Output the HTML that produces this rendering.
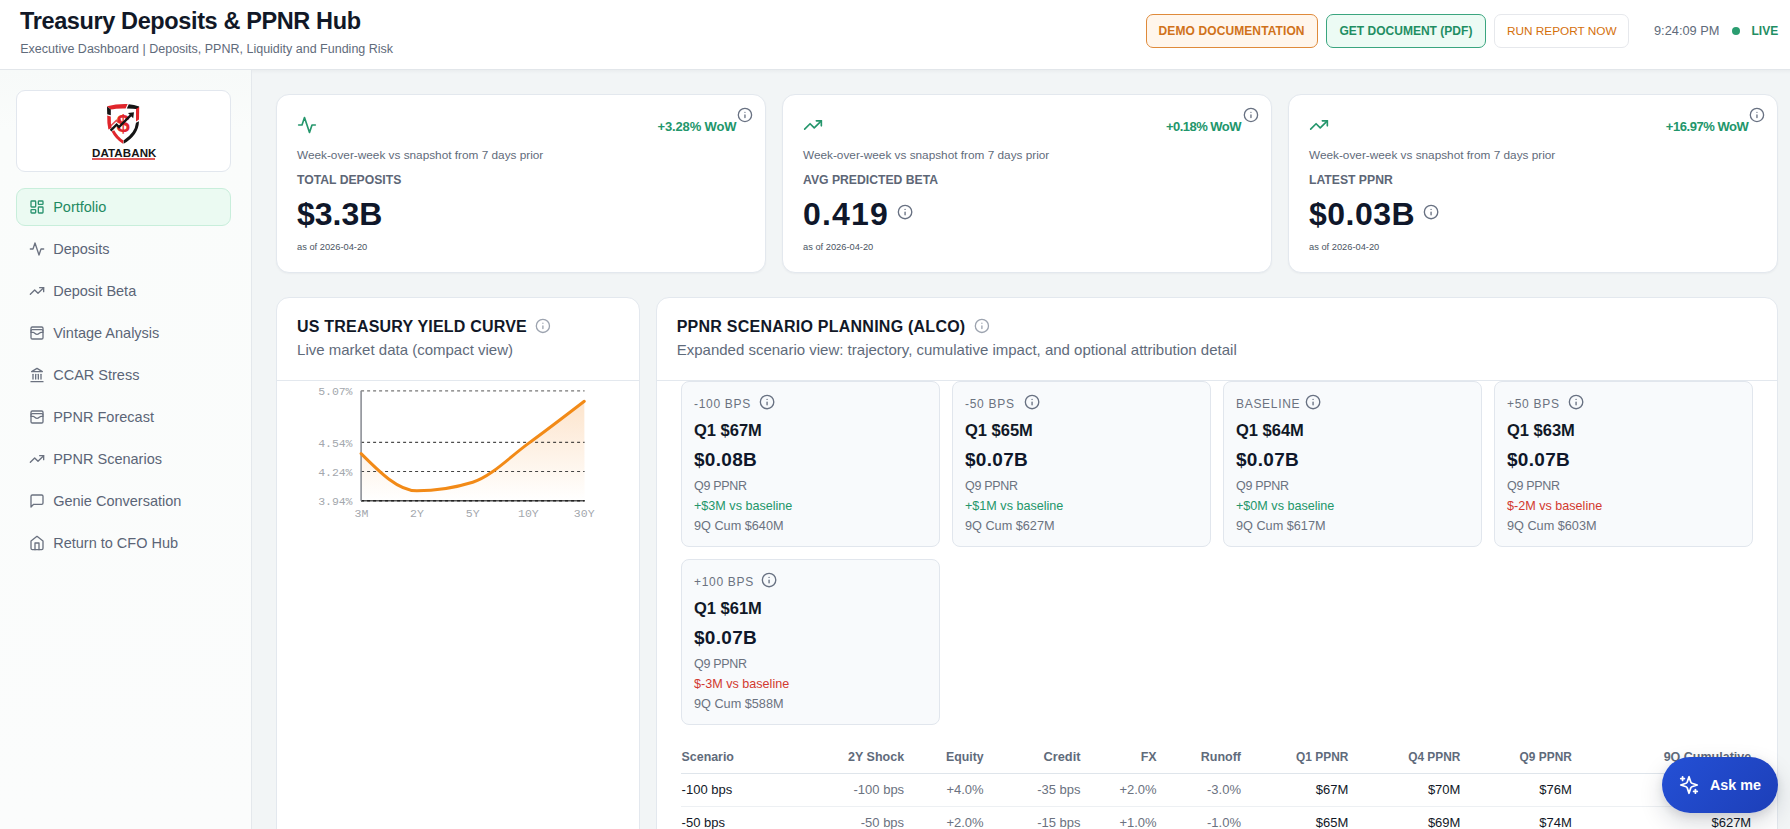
<!DOCTYPE html>
<html><head><meta charset="utf-8">
<style>
*{box-sizing:border-box;margin:0;padding:0}
html,body{width:1790px;height:829px;overflow:hidden;font-family:"Liberation Sans",sans-serif;background:#f2f5f6;position:relative}
.t{position:absolute;line-height:1;white-space:nowrap}
</style></head><body>
<div style="position:absolute;left:0px;top:0px;width:1790px;height:69px;background:#fff"></div>
<div style="position:absolute;left:0px;top:69px;width:1790px;height:1px;background:#e2e6ea"></div>
<div class="t" style="left:20.00px;top:10px;font-size:23.5px;color:#111827;font-weight:700;letter-spacing:-0.38px;">Treasury Deposits &amp; PPNR Hub</div>
<div class="t" style="left:20.20px;top:43px;font-size:12.5px;color:#5f6b7b;font-weight:400;letter-spacing:0px;">Executive Dashboard | Deposits, PPNR, Liquidity and Funding Risk</div>
<div style="position:absolute;left:1146px;top:14px;width:172px;height:34px;border:1px solid #df8a3a;background:#fff6ec;border-radius:7px"></div>
<div class="t" style="left:1158.60px;top:25px;font-size:12px;color:#d0721a;font-weight:700;letter-spacing:0.1px;">DEMO DOCUMENTATION</div>
<div style="position:absolute;left:1326px;top:14px;width:160px;height:34px;border:1px solid #3aa57f;background:#ecfbf4;border-radius:7px"></div>
<div class="t" style="left:1339.40px;top:25px;font-size:12px;color:#1f8e63;font-weight:700;letter-spacing:0.02px;">GET DOCUMENT (PDF)</div>
<div style="position:absolute;left:1494px;top:14px;width:135px;height:34px;border:1px solid #e6e8ec;background:#fff;border-radius:7px"></div>
<div class="t" style="left:1507.00px;top:26px;font-size:11.8px;color:#d4700c;font-weight:400;letter-spacing:0px;">RUN REPORT NOW</div>
<div class="t" style="left:1654.00px;top:25px;font-size:12.8px;color:#5f6b7b;font-weight:400;letter-spacing:0px;">9:24:09 PM</div>
<div style="position:absolute;left:1732px;top:27px;width:8px;height:8px;border-radius:50%;background:#2a9d70"></div>
<div class="t" style="left:1751.50px;top:25px;font-size:12px;color:#1f8e63;font-weight:700;letter-spacing:0px;">LIVE</div>
<div style="position:absolute;left:0px;top:70px;width:251px;height:759px;background:linear-gradient(180deg,#f7faf9 0px,#fafcfb 60px,#fbfcfc 100%)"></div>
<div style="position:absolute;left:251px;top:70px;width:1px;height:759px;background:#e4e8ec"></div>
<div style="position:absolute;left:252px;top:70px;width:1538px;height:4px;background:linear-gradient(rgba(15,23,42,.035),rgba(15,23,42,0))"></div>
<div style="position:absolute;left:16px;top:90px;width:215px;height:82px;background:#fff;border:1px solid #e2e7ee;border-radius:9px"></div>
<svg style="position:absolute;left:102px;top:100px" width="42" height="48" viewBox="0 0 42 48">
<path d="M5 6.2 Q15 3.6 25.6 4 L23.6 8.4 Q14 8.2 8.6 9.6 Z" fill="#e0262c"/>
<path d="M26.8 4.2 Q32 4.6 37.2 6.4 L36.6 9.2 Q31 8.4 24.8 8.4 Z" fill="#151515"/>
<path d="M5 6.6 L8.8 9.6 L8.8 15.2 L5.2 14.2 Z" fill="#151515"/>
<path d="M34 9 L37.2 7 L37 19.6 L34 21.4 Z" fill="#e0262c"/>
<path d="M5.2 15.4 L8.8 16.4 Q8.6 23 9.6 28 L6.4 29.6 Q5 23 5.2 15.4 Z" fill="#e0262c"/>
<path d="M9.6 31.4 L12.2 30.2 Q16 37 21.6 40.6 L21 43.8 Q13 38.6 9.6 31.4 Z" fill="#e0262c"/>
<path d="M37 21.2 Q36.6 35 21.6 43.8 L21.8 40.2 Q33 33 34 22.8 Z" fill="#151515"/>
<text x="21.2" y="31.6" text-anchor="middle" font-family="Liberation Sans" font-weight="700" font-size="24" fill="#e0262c">$</text>
<path d="M8.6 30.6 L14.6 24.6 L17 27 L29.4 14.6" stroke="#151515" stroke-width="2.4" fill="none"/>
<path d="M26 13 L32 12.2 L31.2 18.2 Z" fill="#151515"/>
<path d="M7.6 27 L14.4 20.4 L16.2 22.4 L19 19.6" stroke="#e0262c" stroke-width="1.6" fill="none" opacity="0.8"/>
</svg>
<div class="t" style="left:92.20px;top:149px;font-size:10.3px;color:#151515;font-weight:700;letter-spacing:0.1px;transform:scaleX(1.12);transform-origin:0 0">DATABANK</div>
<div style="position:absolute;left:92px;top:158px;width:63px;height:2px;background:#e05a5a"></div>
<div style="position:absolute;left:16px;top:188px;width:215px;height:38px;background:#ebfaf2;border:1px solid #c8eedb;border-radius:9px"></div>
<svg style="position:absolute;left:28.70px;top:199.20px" width="16" height="16" viewBox="0 0 24 24" fill="none" stroke="#2a9470" stroke-width="2" stroke-linecap="round" stroke-linejoin="round"><rect width="7" height="9" x="3" y="3" rx="1"/><rect width="7" height="5" x="14" y="3" rx="1"/><rect width="7" height="9" x="14" y="12" rx="1"/><rect width="7" height="5" x="3" y="16" rx="1"/></svg>
<div class="t" style="left:53.20px;top:200px;font-size:14.5px;color:#1f8a62;font-weight:400;letter-spacing:0px;">Portfolio</div>
<svg style="position:absolute;left:28.70px;top:241.20px" width="16" height="16" viewBox="0 0 24 24" fill="none" stroke="#6b7280" stroke-width="2" stroke-linecap="round" stroke-linejoin="round"><path d="M22 12h-4l-3 9L9 3l-3 9H2"/></svg>
<div class="t" style="left:53.20px;top:242px;font-size:14.5px;color:#5b6577;font-weight:400;letter-spacing:0px;">Deposits</div>
<svg style="position:absolute;left:28.70px;top:283.20px" width="16" height="16" viewBox="0 0 24 24" fill="none" stroke="#6b7280" stroke-width="2" stroke-linecap="round" stroke-linejoin="round"><polyline points="22 7 13.5 15.5 8.5 10.5 2 17"/><polyline points="16 7 22 7 22 13"/></svg>
<div class="t" style="left:53.20px;top:284px;font-size:14.5px;color:#5b6577;font-weight:400;letter-spacing:0px;">Deposit Beta</div>
<svg style="position:absolute;left:28.70px;top:325.20px" width="16" height="16" viewBox="0 0 24 24" fill="none" stroke="#6b7280" stroke-width="2" stroke-linecap="round" stroke-linejoin="round"><rect width="18" height="18" x="3" y="3" rx="2"/><path d="M3 9a2 2 0 0 1 2-2h14a2 2 0 0 1 2 2"/><path d="M3 11h3c.8 0 1.6.3 2.1.9l1.1.9c1.6 1.6 4.1 1.6 5.7 0l1.1-.9c.5-.5 1.3-.9 2.1-.9H21"/></svg>
<div class="t" style="left:53.20px;top:326px;font-size:14.5px;color:#5b6577;font-weight:400;letter-spacing:0px;">Vintage Analysis</div>
<svg style="position:absolute;left:28.70px;top:367.20px" width="16" height="16" viewBox="0 0 24 24" fill="none" stroke="#6b7280" stroke-width="2" stroke-linecap="round" stroke-linejoin="round"><line x1="3" x2="21" y1="22" y2="22"/><line x1="6" x2="6" y1="18" y2="11"/><line x1="10" x2="10" y1="18" y2="11"/><line x1="14" x2="14" y1="18" y2="11"/><line x1="18" x2="18" y1="18" y2="11"/><polygon points="12 2 20 7 4 7"/></svg>
<div class="t" style="left:53.20px;top:368px;font-size:14.5px;color:#5b6577;font-weight:400;letter-spacing:0px;">CCAR Stress</div>
<svg style="position:absolute;left:28.70px;top:409.20px" width="16" height="16" viewBox="0 0 24 24" fill="none" stroke="#6b7280" stroke-width="2" stroke-linecap="round" stroke-linejoin="round"><rect width="18" height="18" x="3" y="3" rx="2"/><path d="M3 9a2 2 0 0 1 2-2h14a2 2 0 0 1 2 2"/><path d="M3 11h3c.8 0 1.6.3 2.1.9l1.1.9c1.6 1.6 4.1 1.6 5.7 0l1.1-.9c.5-.5 1.3-.9 2.1-.9H21"/></svg>
<div class="t" style="left:53.20px;top:410px;font-size:14.5px;color:#5b6577;font-weight:400;letter-spacing:0px;">PPNR Forecast</div>
<svg style="position:absolute;left:28.70px;top:451.20px" width="16" height="16" viewBox="0 0 24 24" fill="none" stroke="#6b7280" stroke-width="2" stroke-linecap="round" stroke-linejoin="round"><polyline points="22 7 13.5 15.5 8.5 10.5 2 17"/><polyline points="16 7 22 7 22 13"/></svg>
<div class="t" style="left:53.20px;top:452px;font-size:14.5px;color:#5b6577;font-weight:400;letter-spacing:0px;">PPNR Scenarios</div>
<svg style="position:absolute;left:28.70px;top:493.20px" width="16" height="16" viewBox="0 0 24 24" fill="none" stroke="#6b7280" stroke-width="2" stroke-linecap="round" stroke-linejoin="round"><path d="M21 15a2 2 0 0 1-2 2H7l-4 4V5a2 2 0 0 1 2-2h14a2 2 0 0 1 2 2z"/></svg>
<div class="t" style="left:53.20px;top:494px;font-size:14.5px;color:#5b6577;font-weight:400;letter-spacing:0px;">Genie Conversation</div>
<svg style="position:absolute;left:28.70px;top:535.20px" width="16" height="16" viewBox="0 0 24 24" fill="none" stroke="#6b7280" stroke-width="2" stroke-linecap="round" stroke-linejoin="round"><path d="m3 9 9-7 9 7v11a2 2 0 0 1-2 2H5a2 2 0 0 1-2-2z"/><polyline points="9 22 9 12 15 12 15 22"/></svg>
<div class="t" style="left:53.20px;top:536px;font-size:14.5px;color:#5b6577;font-weight:400;letter-spacing:0px;">Return to CFO Hub</div>
<div style="position:absolute;left:276px;top:94px;width:490px;height:179px;background:#fff;border:1px solid #e3e8ee;border-radius:13px;box-shadow:0 1px 2px rgba(16,24,40,.04)"></div>
<svg style="position:absolute;left:297.00px;top:114.90px" width="20" height="20" viewBox="0 0 24 24" fill="none" stroke="#25966c" stroke-width="2" stroke-linecap="round" stroke-linejoin="round"><path d="M22 12h-4l-3 9L9 3l-3 9H2"/></svg>
<div class="t" style="right:1053.60px;top:120px;font-size:13px;color:#22966b;font-weight:700;letter-spacing:-0.14px;">+3.28% WoW</div>
<svg style="position:absolute;left:736.94px;top:106.94px" width="15.927272727272726" height="15.927272727272726" viewBox="0 0 24 24" fill="none" stroke="#687182" stroke-width="2" stroke-linecap="round" stroke-linejoin="round"><circle cx="12" cy="12" r="10"/><path d="M12 16v-4"/><path d="M12 8h.01"/></svg>
<div class="t" style="left:297.00px;top:150px;font-size:11.8px;color:#5f6b7b;font-weight:400;letter-spacing:0px;">Week-over-week vs snapshot from 7 days prior</div>
<div class="t" style="left:297.00px;top:174px;font-size:12.2px;color:#5d6676;font-weight:700;letter-spacing:0px;">TOTAL DEPOSITS</div>
<div class="t" style="left:297.00px;top:198px;font-size:32px;color:#0f172a;font-weight:700;letter-spacing:0px;">$3.3B</div>
<div class="t" style="left:297.00px;top:243px;font-size:9.3px;color:#4b5563;font-weight:400;letter-spacing:0px;">as of 2026-04-20</div>
<div style="position:absolute;left:782px;top:94px;width:490px;height:179px;background:#fff;border:1px solid #e3e8ee;border-radius:13px;box-shadow:0 1px 2px rgba(16,24,40,.04)"></div>
<svg style="position:absolute;left:803.00px;top:114.90px" width="20" height="20" viewBox="0 0 24 24" fill="none" stroke="#25966c" stroke-width="2" stroke-linecap="round" stroke-linejoin="round"><polyline points="22 7 13.5 15.5 8.5 10.5 2 17"/><polyline points="16 7 22 7 22 13"/></svg>
<div class="t" style="right:549.10px;top:120px;font-size:13px;color:#22966b;font-weight:700;letter-spacing:-0.53px;">+0.18% WoW</div>
<svg style="position:absolute;left:1242.94px;top:106.94px" width="15.927272727272726" height="15.927272727272726" viewBox="0 0 24 24" fill="none" stroke="#687182" stroke-width="2" stroke-linecap="round" stroke-linejoin="round"><circle cx="12" cy="12" r="10"/><path d="M12 16v-4"/><path d="M12 8h.01"/></svg>
<div class="t" style="left:803.00px;top:150px;font-size:11.8px;color:#5f6b7b;font-weight:400;letter-spacing:0px;">Week-over-week vs snapshot from 7 days prior</div>
<div class="t" style="left:803.00px;top:174px;font-size:12.2px;color:#5d6676;font-weight:700;letter-spacing:0px;">AVG PREDICTED BETA</div>
<div class="t" style="left:803.00px;top:198px;font-size:32px;color:#0f172a;font-weight:700;letter-spacing:1.2px;">0.419</div>
<svg style="position:absolute;left:896.93px;top:203.73px" width="16.145454545454548" height="16.145454545454548" viewBox="0 0 24 24" fill="none" stroke="#687182" stroke-width="2" stroke-linecap="round" stroke-linejoin="round"><circle cx="12" cy="12" r="10"/><path d="M12 16v-4"/><path d="M12 8h.01"/></svg>
<div class="t" style="left:803.00px;top:243px;font-size:9.3px;color:#4b5563;font-weight:400;letter-spacing:0px;">as of 2026-04-20</div>
<div style="position:absolute;left:1288px;top:94px;width:490px;height:179px;background:#fff;border:1px solid #e3e8ee;border-radius:13px;box-shadow:0 1px 2px rgba(16,24,40,.04)"></div>
<svg style="position:absolute;left:1309.00px;top:114.90px" width="20" height="20" viewBox="0 0 24 24" fill="none" stroke="#25966c" stroke-width="2" stroke-linecap="round" stroke-linejoin="round"><polyline points="22 7 13.5 15.5 8.5 10.5 2 17"/><polyline points="16 7 22 7 22 13"/></svg>
<div class="t" style="right:41.60px;top:120px;font-size:13px;color:#22966b;font-weight:700;letter-spacing:-0.45px;">+16.97% WoW</div>
<svg style="position:absolute;left:1748.94px;top:106.94px" width="15.927272727272726" height="15.927272727272726" viewBox="0 0 24 24" fill="none" stroke="#687182" stroke-width="2" stroke-linecap="round" stroke-linejoin="round"><circle cx="12" cy="12" r="10"/><path d="M12 16v-4"/><path d="M12 8h.01"/></svg>
<div class="t" style="left:1309.00px;top:150px;font-size:11.8px;color:#5f6b7b;font-weight:400;letter-spacing:0px;">Week-over-week vs snapshot from 7 days prior</div>
<div class="t" style="left:1309.00px;top:174px;font-size:12.2px;color:#5d6676;font-weight:700;letter-spacing:0px;">LATEST PPNR</div>
<div class="t" style="left:1309.00px;top:198px;font-size:32px;color:#0f172a;font-weight:700;letter-spacing:0.5px;">$0.03B</div>
<svg style="position:absolute;left:1422.93px;top:203.73px" width="16.145454545454548" height="16.145454545454548" viewBox="0 0 24 24" fill="none" stroke="#687182" stroke-width="2" stroke-linecap="round" stroke-linejoin="round"><circle cx="12" cy="12" r="10"/><path d="M12 16v-4"/><path d="M12 8h.01"/></svg>
<div class="t" style="left:1309.00px;top:243px;font-size:9.3px;color:#4b5563;font-weight:400;letter-spacing:0px;">as of 2026-04-20</div>
<div style="position:absolute;left:276px;top:297px;width:364px;height:560px;background:#fff;border:1px solid #e3e8ee;border-radius:13px"></div>
<div class="t" style="left:297.10px;top:319px;font-size:16px;color:#111827;font-weight:700;letter-spacing:0.2px;">US TREASURY YIELD CURVE</div>
<svg style="position:absolute;left:534.99px;top:318.29px" width="15.818181818181818" height="15.818181818181818" viewBox="0 0 24 24" fill="none" stroke="#9ca3af" stroke-width="2" stroke-linecap="round" stroke-linejoin="round"><circle cx="12" cy="12" r="10"/><path d="M12 16v-4"/><path d="M12 8h.01"/></svg>
<div class="t" style="left:297.10px;top:342px;font-size:15px;color:#5f6b7b;font-weight:400;letter-spacing:0px;">Live market data (compact view)</div>
<div style="position:absolute;left:277px;top:380px;width:362px;height:1px;background:#e3e8ee"></div>
<div style="position:absolute;left:656px;top:297px;width:1122px;height:560px;background:#fff;border:1px solid #e3e8ee;border-radius:13px"></div>
<div class="t" style="left:676.70px;top:319px;font-size:16px;color:#111827;font-weight:700;letter-spacing:0.24px;">PPNR SCENARIO PLANNING (ALCO)</div>
<svg style="position:absolute;left:973.89px;top:317.89px" width="15.818181818181818" height="15.818181818181818" viewBox="0 0 24 24" fill="none" stroke="#9ca3af" stroke-width="2" stroke-linecap="round" stroke-linejoin="round"><circle cx="12" cy="12" r="10"/><path d="M12 16v-4"/><path d="M12 8h.01"/></svg>
<div class="t" style="left:676.70px;top:342px;font-size:15px;color:#5f6b7b;font-weight:400;letter-spacing:0px;">Expanded scenario view: trajectory, cumulative impact, and optional attribution detail</div>
<div style="position:absolute;left:657px;top:380px;width:1120px;height:1px;background:#e3e8ee"></div>
<svg style="position:absolute;left:0;top:0" width="1790" height="829" viewBox="0 0 1790 829">
<defs><linearGradient id="gf" x1="0" y1="0" x2="0" y2="1"><stop offset="0" stop-color="#f7a04a" stop-opacity="0.28"/><stop offset="1" stop-color="#f7a04a" stop-opacity="0.0"/></linearGradient></defs>
<path d="M361.10,453.60 C379.70,472.20 398.30,490.80 416.90,490.80 C435.50,490.80 454.10,487.93 472.70,482.20 C491.30,476.47 509.90,456.88 528.50,443.40 C547.10,429.92 565.70,415.61 584.30,401.30 L584.6,500.7 L361.1,500.7 Z" fill="url(#gf)"/>
<line x1="361.1" y1="390.8" x2="584.6" y2="390.8" stroke="#777" stroke-width="1.3" stroke-dasharray="3 3"/>
<line x1="361.1" y1="442.3" x2="584.6" y2="442.3" stroke="#222" stroke-width="1" stroke-dasharray="3 3"/>
<line x1="361.1" y1="471.5" x2="584.6" y2="471.5" stroke="#444" stroke-width="1" stroke-dasharray="3 3"/>
<line x1="361.1" y1="500.7" x2="584.6" y2="500.7" stroke="#555" stroke-width="1.6"/>
<line x1="361.1" y1="500.7" x2="584.6" y2="500.7" stroke="#222" stroke-width="1.6" stroke-dasharray="3 3"/>
<line x1="361.1" y1="390.8" x2="361.1" y2="500.7" stroke="#85888f" stroke-width="1.5"/>
<path d="M361.10,453.60 C379.70,472.20 398.30,490.80 416.90,490.80 C435.50,490.80 454.10,487.93 472.70,482.20 C491.30,476.47 509.90,456.88 528.50,443.40 C547.10,429.92 565.70,415.61 584.30,401.30" fill="none" stroke="#f28a17" stroke-width="3" stroke-linecap="round" stroke-linejoin="round"/>
</svg>
<div class="t" style="right:1437.70px;top:386px;font-size:11.5px;color:#a3a7ad;font-weight:400;letter-spacing:-0.1px;font-family:'Liberation Mono',monospace;">5.07%</div>
<div class="t" style="right:1437.70px;top:438px;font-size:11.5px;color:#a3a7ad;font-weight:400;letter-spacing:-0.1px;font-family:'Liberation Mono',monospace;">4.54%</div>
<div class="t" style="right:1437.70px;top:467px;font-size:11.5px;color:#a3a7ad;font-weight:400;letter-spacing:-0.1px;font-family:'Liberation Mono',monospace;">4.24%</div>
<div class="t" style="right:1437.70px;top:496px;font-size:11.5px;color:#a3a7ad;font-weight:400;letter-spacing:-0.1px;font-family:'Liberation Mono',monospace;">3.94%</div>
<div class="t" style="left:354.50px;top:508px;font-size:11.5px;color:#a3a7ad;font-weight:400;letter-spacing:0px;font-family:'Liberation Mono',monospace;">3M</div>
<div class="t" style="left:410.00px;top:508px;font-size:11.5px;color:#a3a7ad;font-weight:400;letter-spacing:0px;font-family:'Liberation Mono',monospace;">2Y</div>
<div class="t" style="left:465.80px;top:508px;font-size:11.5px;color:#a3a7ad;font-weight:400;letter-spacing:0px;font-family:'Liberation Mono',monospace;">5Y</div>
<div class="t" style="left:518.05px;top:508px;font-size:11.5px;color:#a3a7ad;font-weight:400;letter-spacing:0px;font-family:'Liberation Mono',monospace;">10Y</div>
<div class="t" style="left:573.85px;top:508px;font-size:11.5px;color:#a3a7ad;font-weight:400;letter-spacing:0px;font-family:'Liberation Mono',monospace;">30Y</div>
<div style="position:absolute;left:681px;top:381px;width:259px;height:166px;background:#f8fafc;border:1px solid #e1e6ed;border-radius:8px"></div>
<div class="t" style="left:694.00px;top:398px;font-size:12px;color:#6b7280;font-weight:400;letter-spacing:0.7px;">-100 BPS</div>
<div class="t" style="left:694.00px;top:422px;font-size:16.5px;color:#111827;font-weight:700;letter-spacing:0px;">Q1 $67M</div>
<div class="t" style="left:694.00px;top:450px;font-size:19px;color:#0f172a;font-weight:700;letter-spacing:0.3px;">$0.08B</div>
<div class="t" style="left:694.00px;top:480px;font-size:12.5px;color:#6b7280;font-weight:400;letter-spacing:-0.3px;">Q9 PPNR</div>
<div class="t" style="left:694.00px;top:500px;font-size:12.6px;color:#23966a;font-weight:400;letter-spacing:0px;">+$3M vs baseline</div>
<div class="t" style="left:694.00px;top:520px;font-size:12.7px;color:#6b7280;font-weight:400;letter-spacing:0px;">9Q Cum $640M</div>
<svg style="position:absolute;left:758.83px;top:394.43px" width="16.145454545454548" height="16.145454545454548" viewBox="0 0 24 24" fill="none" stroke="#687182" stroke-width="2" stroke-linecap="round" stroke-linejoin="round"><circle cx="12" cy="12" r="10"/><path d="M12 16v-4"/><path d="M12 8h.01"/></svg>
<div style="position:absolute;left:952px;top:381px;width:259px;height:166px;background:#f8fafc;border:1px solid #e1e6ed;border-radius:8px"></div>
<div class="t" style="left:965.00px;top:398px;font-size:12px;color:#6b7280;font-weight:400;letter-spacing:0.7px;">-50 BPS</div>
<div class="t" style="left:965.00px;top:422px;font-size:16.5px;color:#111827;font-weight:700;letter-spacing:0px;">Q1 $65M</div>
<div class="t" style="left:965.00px;top:450px;font-size:19px;color:#0f172a;font-weight:700;letter-spacing:0.3px;">$0.07B</div>
<div class="t" style="left:965.00px;top:480px;font-size:12.5px;color:#6b7280;font-weight:400;letter-spacing:-0.3px;">Q9 PPNR</div>
<div class="t" style="left:965.00px;top:500px;font-size:12.6px;color:#23966a;font-weight:400;letter-spacing:0px;">+$1M vs baseline</div>
<div class="t" style="left:965.00px;top:520px;font-size:12.7px;color:#6b7280;font-weight:400;letter-spacing:0px;">9Q Cum $627M</div>
<svg style="position:absolute;left:1023.53px;top:394.43px" width="16.145454545454548" height="16.145454545454548" viewBox="0 0 24 24" fill="none" stroke="#687182" stroke-width="2" stroke-linecap="round" stroke-linejoin="round"><circle cx="12" cy="12" r="10"/><path d="M12 16v-4"/><path d="M12 8h.01"/></svg>
<div style="position:absolute;left:1223px;top:381px;width:259px;height:166px;background:#f8fafc;border:1px solid #e1e6ed;border-radius:8px"></div>
<div class="t" style="left:1236.00px;top:398px;font-size:12px;color:#6b7280;font-weight:400;letter-spacing:0.7px;">BASELINE</div>
<div class="t" style="left:1236.00px;top:422px;font-size:16.5px;color:#111827;font-weight:700;letter-spacing:0px;">Q1 $64M</div>
<div class="t" style="left:1236.00px;top:450px;font-size:19px;color:#0f172a;font-weight:700;letter-spacing:0.3px;">$0.07B</div>
<div class="t" style="left:1236.00px;top:480px;font-size:12.5px;color:#6b7280;font-weight:400;letter-spacing:-0.3px;">Q9 PPNR</div>
<div class="t" style="left:1236.00px;top:500px;font-size:12.6px;color:#23966a;font-weight:400;letter-spacing:0px;">+$0M vs baseline</div>
<div class="t" style="left:1236.00px;top:520px;font-size:12.7px;color:#6b7280;font-weight:400;letter-spacing:0px;">9Q Cum $617M</div>
<svg style="position:absolute;left:1304.83px;top:394.43px" width="16.145454545454548" height="16.145454545454548" viewBox="0 0 24 24" fill="none" stroke="#687182" stroke-width="2" stroke-linecap="round" stroke-linejoin="round"><circle cx="12" cy="12" r="10"/><path d="M12 16v-4"/><path d="M12 8h.01"/></svg>
<div style="position:absolute;left:1494px;top:381px;width:259px;height:166px;background:#f8fafc;border:1px solid #e1e6ed;border-radius:8px"></div>
<div class="t" style="left:1507.00px;top:398px;font-size:12px;color:#6b7280;font-weight:400;letter-spacing:0.7px;">+50 BPS</div>
<div class="t" style="left:1507.00px;top:422px;font-size:16.5px;color:#111827;font-weight:700;letter-spacing:0px;">Q1 $63M</div>
<div class="t" style="left:1507.00px;top:450px;font-size:19px;color:#0f172a;font-weight:700;letter-spacing:0.3px;">$0.07B</div>
<div class="t" style="left:1507.00px;top:480px;font-size:12.5px;color:#6b7280;font-weight:400;letter-spacing:-0.3px;">Q9 PPNR</div>
<div class="t" style="left:1507.00px;top:500px;font-size:12.6px;color:#d2392f;font-weight:400;letter-spacing:0px;">$-2M vs baseline</div>
<div class="t" style="left:1507.00px;top:520px;font-size:12.7px;color:#6b7280;font-weight:400;letter-spacing:0px;">9Q Cum $603M</div>
<svg style="position:absolute;left:1567.93px;top:394.43px" width="16.145454545454548" height="16.145454545454548" viewBox="0 0 24 24" fill="none" stroke="#687182" stroke-width="2" stroke-linecap="round" stroke-linejoin="round"><circle cx="12" cy="12" r="10"/><path d="M12 16v-4"/><path d="M12 8h.01"/></svg>
<div style="position:absolute;left:681px;top:559px;width:259px;height:166px;background:#f8fafc;border:1px solid #e1e6ed;border-radius:8px"></div>
<div class="t" style="left:694.00px;top:576px;font-size:12px;color:#6b7280;font-weight:400;letter-spacing:0.7px;">+100 BPS</div>
<div class="t" style="left:694.00px;top:600px;font-size:16.5px;color:#111827;font-weight:700;letter-spacing:0px;">Q1 $61M</div>
<div class="t" style="left:694.00px;top:628px;font-size:19px;color:#0f172a;font-weight:700;letter-spacing:0.3px;">$0.07B</div>
<div class="t" style="left:694.00px;top:658px;font-size:12.5px;color:#6b7280;font-weight:400;letter-spacing:-0.3px;">Q9 PPNR</div>
<div class="t" style="left:694.00px;top:678px;font-size:12.6px;color:#d2392f;font-weight:400;letter-spacing:0px;">$-3M vs baseline</div>
<div class="t" style="left:694.00px;top:698px;font-size:12.7px;color:#6b7280;font-weight:400;letter-spacing:0px;">9Q Cum $588M</div>
<svg style="position:absolute;left:760.73px;top:572.43px" width="16.145454545454548" height="16.145454545454548" viewBox="0 0 24 24" fill="none" stroke="#687182" stroke-width="2" stroke-linecap="round" stroke-linejoin="round"><circle cx="12" cy="12" r="10"/><path d="M12 16v-4"/><path d="M12 8h.01"/></svg>
<div class="t" style="left:681.60px;top:751px;font-size:12.4px;color:#5f6b7b;font-weight:700;letter-spacing:0px;">Scenario</div>
<div class="t" style="right:885.90px;top:751px;font-size:12.5px;color:#5f6b7b;font-weight:700;letter-spacing:0px;">2Y Shock</div>
<div class="t" style="right:806.40px;top:751px;font-size:12.3px;color:#5f6b7b;font-weight:700;letter-spacing:0px;">Equity</div>
<div class="t" style="right:709.50px;top:751px;font-size:12.8px;color:#5f6b7b;font-weight:700;letter-spacing:0px;">Credit</div>
<div class="t" style="right:633.40px;top:751px;font-size:12.5px;color:#5f6b7b;font-weight:700;letter-spacing:0px;">FX</div>
<div class="t" style="right:549.00px;top:751px;font-size:12.5px;color:#5f6b7b;font-weight:700;letter-spacing:0px;">Runoff</div>
<div class="t" style="right:441.70px;top:752px;font-size:11.9px;color:#5f6b7b;font-weight:700;letter-spacing:0px;">Q1 PPNR</div>
<div class="t" style="right:329.60px;top:752px;font-size:11.9px;color:#5f6b7b;font-weight:700;letter-spacing:0px;">Q4 PPNR</div>
<div class="t" style="right:218.20px;top:752px;font-size:11.9px;color:#5f6b7b;font-weight:700;letter-spacing:0px;">Q9 PPNR</div>
<div class="t" style="right:38.80px;top:751px;font-size:12.5px;color:#5f6b7b;font-weight:700;letter-spacing:0px;">9Q Cumulative</div>
<div style="position:absolute;left:681px;top:773px;width:1071px;height:1px;background:#dfe5eb"></div>
<div class="t" style="left:681.60px;top:783px;font-size:13px;color:#111827;font-weight:400;letter-spacing:0px;">-100 bps</div>
<div class="t" style="right:885.90px;top:783px;font-size:13px;color:#6b7280;font-weight:400;letter-spacing:0px;">-100 bps</div>
<div class="t" style="right:806.40px;top:783px;font-size:13px;color:#6b7280;font-weight:400;letter-spacing:0px;">+4.0%</div>
<div class="t" style="right:709.50px;top:783px;font-size:13px;color:#6b7280;font-weight:400;letter-spacing:0px;">-35 bps</div>
<div class="t" style="right:633.40px;top:783px;font-size:13px;color:#6b7280;font-weight:400;letter-spacing:0px;">+2.0%</div>
<div class="t" style="right:549.00px;top:783px;font-size:13px;color:#6b7280;font-weight:400;letter-spacing:0px;">-3.0%</div>
<div class="t" style="right:441.70px;top:783px;font-size:13px;color:#111827;font-weight:400;letter-spacing:0px;">$67M</div>
<div class="t" style="right:329.60px;top:783px;font-size:13px;color:#111827;font-weight:400;letter-spacing:0px;">$70M</div>
<div class="t" style="right:218.20px;top:783px;font-size:13px;color:#111827;font-weight:400;letter-spacing:0px;">$76M</div>
<div class="t" style="right:38.80px;top:783px;font-size:13px;color:#111827;font-weight:400;letter-spacing:0px;">$640M</div>
<div style="position:absolute;left:681px;top:806px;width:1071px;height:1px;background:#edf0f3"></div>
<div class="t" style="left:681.60px;top:816px;font-size:13px;color:#111827;font-weight:400;letter-spacing:0px;">-50 bps</div>
<div class="t" style="right:885.90px;top:816px;font-size:13px;color:#6b7280;font-weight:400;letter-spacing:0px;">-50 bps</div>
<div class="t" style="right:806.40px;top:816px;font-size:13px;color:#6b7280;font-weight:400;letter-spacing:0px;">+2.0%</div>
<div class="t" style="right:709.50px;top:816px;font-size:13px;color:#6b7280;font-weight:400;letter-spacing:0px;">-15 bps</div>
<div class="t" style="right:633.40px;top:816px;font-size:13px;color:#6b7280;font-weight:400;letter-spacing:0px;">+1.0%</div>
<div class="t" style="right:549.00px;top:816px;font-size:13px;color:#6b7280;font-weight:400;letter-spacing:0px;">-1.0%</div>
<div class="t" style="right:441.70px;top:816px;font-size:13px;color:#111827;font-weight:400;letter-spacing:0px;">$65M</div>
<div class="t" style="right:329.60px;top:816px;font-size:13px;color:#111827;font-weight:400;letter-spacing:0px;">$69M</div>
<div class="t" style="right:218.20px;top:816px;font-size:13px;color:#111827;font-weight:400;letter-spacing:0px;">$74M</div>
<div class="t" style="right:38.80px;top:816px;font-size:13px;color:#111827;font-weight:400;letter-spacing:0px;">$627M</div>
<div style="position:absolute;left:681px;top:839px;width:1071px;height:1px;background:#edf0f3"></div>
<div style="position:absolute;left:1662px;top:757px;width:116px;height:56px;border-radius:28px;background:linear-gradient(135deg,#2450d6,#1d3fb8);box-shadow:0 10px 24px rgba(15,23,42,.16),0 3px 8px rgba(15,23,42,.10)"></div>
<svg style="position:absolute;left:1678.30px;top:773.60px" width="22" height="22" viewBox="0 0 24 24" fill="none" stroke="#fff" stroke-width="1.9" stroke-linecap="round" stroke-linejoin="round"><path d="m12 3-1.912 5.813a2 2 0 0 1-1.275 1.275L3 12l5.813 1.912a2 2 0 0 1 1.275 1.275L12 21l1.912-5.813a2 2 0 0 1 1.275-1.275L21 12l-5.813-1.912a2 2 0 0 1-1.275-1.275L12 3Z"/><path d="M5 3v4"/><path d="M19 17v4"/><path d="M3 5h4"/><path d="M17 19h4"/></svg>
<div class="t" style="left:1710.00px;top:778px;font-size:14.3px;color:#ffffff;font-weight:700;letter-spacing:0px;">Ask me</div>
</body></html>
